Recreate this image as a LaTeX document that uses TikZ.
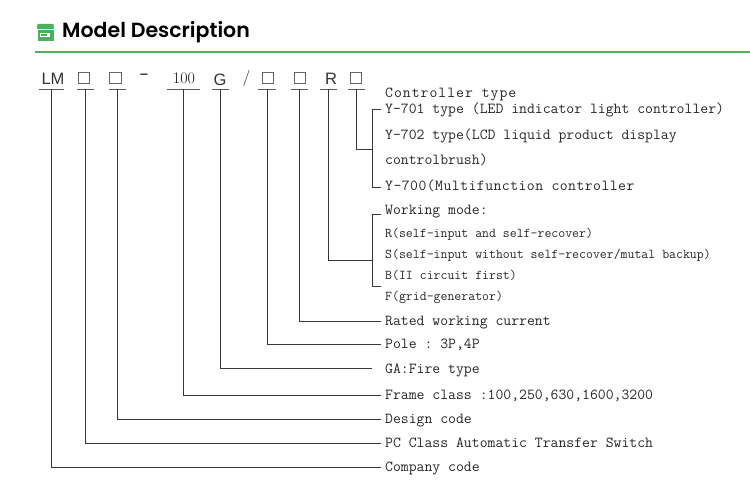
\documentclass[tikz,border=0pt]{standalone}
\usepackage{fontspec}
\setsansfont{Liberation Sans}
\newfontfamily\headfont{Poppins SemiBold}
\setmonofont{Latin Modern Mono}
\tikzset{x=1pt,y=-1pt,
 lead/.style={draw=black!78,line width=0.9pt},
 under/.style={draw=black!65,line width=0.8pt},
 desc/.style={anchor=west,inner xsep=4pt,inner ysep=0pt,text height=10pt,text depth=3pt,text=black!85,font=\ttfamily\fontsize{15.3}{15}\selectfont},
 descs/.style={desc,font=\ttfamily\fontsize{13.45}{15}\selectfont},
 sym/.style={inner sep=0pt,text=black!80,font=\sffamily\fontsize{16.5}{16}\selectfont},
 numb/.style={inner sep=0pt,text=black!90,font=\rmfamily\fontsize{16}{15}\selectfont},
 box/.style={draw=black!60,line width=0.6pt,fill=white,minimum width=11.5pt,minimum height=11pt,inner sep=0pt},
}
\definecolor{brand}{HTML}{4CAF5E}
\begin{document}
\begin{tikzpicture}
\useasboundingbox (0,0) rectangle (750,500);
% heading
\node[anchor=west,inner sep=0pt,font=\headfont\fontsize{20.5}{21}\selectfont] (title) at (62,32) {Model Description};
\fill[brand] (37.5,24) -- (53.5,24) -- (54,29) -- (37,29) -- cycle;
\fill[brand] (37.5,30) rectangle (53.5,41);
\fill[white] (40,33) rectangle (50,37);
\fill[brand] (41,34.5) rectangle (47,36);
\draw[brand,line width=2pt] (35,52) -- (750,52);
% code symbols
\node[sym] (sLM) at (53,79) {LM};
\node[box] (s1) at (84,78) {};
\node[box] (s2) at (115.5,78) {};
\node[numb,font=\ttfamily\fontsize{19}{19}\selectfont] (sDash) at (144,77.5) {-};
\node[numb] (s100) at (184,78) {100};
\node[sym] (sG) at (220,79.5) {G};
\node[numb,font=\rmfamily\fontsize{16}{16}\selectfont] (sSlash) at (246.5,78.5) {/};
\node[box] (s3) at (268,78) {};
\node[box] (s4) at (300,78) {};
\node[sym] (sR) at (331,79) {R};
\node[box] (s5) at (356,78) {};
% underlines
\foreach \n/\a/\b/\c in {uLM/39/64/51.5,u1/77/94/85.5,u2/109/126/117.5,u100/167/200/183,uG/212/229/220,u3/258/276/267,u4/291/308/299,uR/320/337/328,u5/348/365/356.5}{
  \coordinate (\n) at (\c,89.5);
  \draw[under] (\a,89.5) -- (\b,89.5);
}
% descriptions
\node[desc,font=\ttfamily\fontsize{15.3}{15}\selectfont\addfontfeatures{LetterSpace=6.5}] (tCtl) at (381,94) {Controller type};
\node[desc] (tY1) at (381,110.5) {Y-701 type (LED indicator light controller)};
\node[desc] (tY2) at (381,136) {Y-702 type(LCD liquid product display};
\node[desc] (tBrush) at (381,161) {controlbrush)};
\node[desc,font=\ttfamily\fontsize{15.3}{15}\selectfont\addfontfeatures{LetterSpace=3}] (tY0) at (381,187) {Y-700(Multifunction controller};
\node[desc] (tWork) at (381,211) {Working mode:};
\node[descs] (tR) at (381,233.5) {R(self-input and self-recover)};
\node[descs] (tS) at (381,254.5) {S(self-input without self-recover/mutal backup)};
\node[descs] (tB) at (381,275.5) {B(II circuit first)};
\node[descs] (tF) at (381,296.5) {F(grid-generator)};
\node[desc] (tRated) at (381,321.5) {Rated working current};
\node[desc] (tPole) at (381,344.5) {Pole : 3P,4P};
\node[desc] (tGA) at (381,369.5) {GA:Fire type};
\node[desc] (tFrame) at (381,395.5) {Frame class :100,250,630,1600,3200};
\node[desc] (tDesign) at (381,419.5) {Design code};
\node[desc] (tPC) at (381,443.5) {PC Class Automatic Transfer Switch};
\node[desc] (tCo) at (381,467.5) {Company code};
% simple leaders
\draw[lead] (uLM) |- (tCo.west);
\draw[lead] (u1) |- (tPC.west);
\draw[lead] (u2) |- (tDesign.west);
\draw[lead] (u100) |- (tFrame.west);
\coordinate (eGA) at (372,368.5);
\draw[lead] (uG) |- (eGA);
\draw[lead] (u3) |- (tPole.west);
\draw[lead] (u4) |- (tRated.west);
% working mode bracket
\coordinate (wJoin) at (372,260);
\coordinate (wTop) at (381,214);
\coordinate (wBot) at (381,286);
\draw[lead] (uR) |- (wJoin);
\draw[lead] (wTop) -- (372,214) -- (372,286) -- (wBot);
% controller bracket
\coordinate (cJoin) at (372,149);
\coordinate (cTop) at (381,109);
\coordinate (cBot) at (381,187);
\draw[lead] (u5) |- (cJoin);
\draw[lead] (cTop) -- (372,109) -- (372,187) -- (cBot);
\end{tikzpicture}
\end{document}
